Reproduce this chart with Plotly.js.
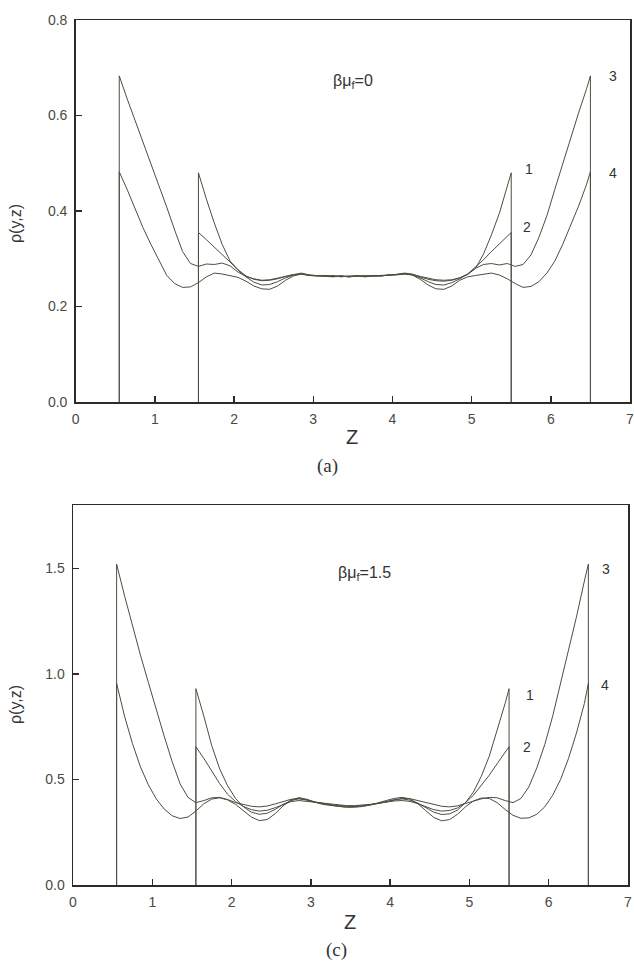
<!DOCTYPE html>
<html>
<head>
<meta charset="utf-8">
<script src="https://cdn.plot.ly/plotly-3.0.1.min.js"></script>
<style>html,body{margin:0;padding:0;background:#fff;}#chart{width:634px;height:969px;}</style>
</head>
<body>
<div id="chart"></div>
<script>
// z grids: walls at 0.55/6.5 (curves 3,4) and 1.55/5.5 (curves 1,2)
const z34 = [0.55,
  0.55,0.65,0.75,0.85,0.95,1.05,1.15,1.25,1.35,1.45,
  1.55,1.65,1.75,1.85,1.95,2.05,2.15,2.25,2.35,2.45,
  2.55,2.65,2.75,2.85,2.95,3.05,3.15,3.25,3.35,3.45,
  3.55,3.65,3.75,3.85,3.95,4.05,4.15,4.25,4.35,4.45,
  4.55,4.65,4.75,4.85,4.95,5.05,5.15,5.25,5.35,5.45,
  5.55,5.65,5.75,5.85,5.95,6.05,6.15,6.25,6.35,6.45,
  6.5,6.5];
const z12 = [1.55,
  1.55,1.65,1.75,1.85,1.95,2.05,2.15,2.25,2.35,2.45,
  2.55,2.65,2.75,2.85,2.95,3.05,3.15,3.25,3.35,3.45,
  3.55,3.65,3.75,3.85,3.95,4.05,4.15,4.25,4.35,4.45,
  4.55,4.65,4.75,4.85,4.95,5.05,5.15,5.25,5.35,5.45,
  5.5,5.5];

// Panel (a): beta mu_f = 0
const a1 = [0,
  0.48,0.425,0.375,0.33,0.295,0.277,0.264,0.257,0.254,0.255,
  0.258,0.263,0.267,0.27,0.266,0.265,0.264,0.262,0.264,0.263,
  0.265,0.262,0.264,0.265,0.266,0.267,0.27,0.268,0.262,0.257,
  0.254,0.253,0.255,0.26,0.267,0.28,0.31,0.35,0.395,0.45,
  0.48,0];
const a2 = [0,
  0.355,0.34,0.325,0.308,0.293,0.276,0.262,0.251,0.245,0.246,
  0.252,0.26,0.266,0.268,0.265,0.264,0.265,0.263,0.264,0.262,
  0.264,0.263,0.265,0.264,0.266,0.267,0.268,0.266,0.26,0.252,
  0.246,0.245,0.25,0.258,0.268,0.282,0.298,0.315,0.33,0.347,
  0.355,0];
const a3 = [0,
  0.683,0.635,0.59,0.545,0.50,0.455,0.408,0.36,0.315,0.29,
  0.284,0.289,0.288,0.291,0.285,0.272,0.263,0.258,0.255,0.256,
  0.259,0.263,0.267,0.268,0.265,0.264,0.265,0.263,0.264,0.262,
  0.264,0.263,0.265,0.264,0.266,0.266,0.268,0.267,0.263,0.259,
  0.256,0.255,0.256,0.26,0.268,0.28,0.288,0.29,0.287,0.29,
  0.284,0.288,0.308,0.345,0.39,0.445,0.5,0.555,0.605,0.655,
  0.683,0];
const a4 = [0,
  0.482,0.445,0.405,0.365,0.33,0.298,0.265,0.248,0.24,0.241,
  0.25,0.262,0.27,0.268,0.265,0.261,0.253,0.243,0.237,0.236,
  0.243,0.255,0.264,0.268,0.266,0.264,0.263,0.265,0.262,0.264,
  0.263,0.265,0.263,0.264,0.266,0.268,0.269,0.266,0.257,0.245,
  0.237,0.236,0.243,0.255,0.262,0.265,0.268,0.27,0.266,0.258,
  0.248,0.24,0.242,0.252,0.27,0.295,0.33,0.37,0.41,0.455,
  0.482,0];

// Panel (c): beta mu_f = 1.5
const b1 = [0,
  0.93,0.8,0.66,0.55,0.47,0.41,0.37,0.345,0.335,0.34,
  0.358,0.382,0.40,0.408,0.402,0.392,0.385,0.378,0.373,0.368,
  0.368,0.372,0.378,0.386,0.395,0.404,0.408,0.402,0.388,0.365,
  0.345,0.334,0.337,0.355,0.39,0.44,0.515,0.61,0.73,0.86,
  0.93,0];
const b2 = [0,
  0.655,0.6,0.54,0.48,0.43,0.395,0.372,0.357,0.35,0.354,
  0.366,0.382,0.395,0.40,0.396,0.39,0.385,0.381,0.378,0.376,
  0.376,0.378,0.382,0.387,0.393,0.398,0.40,0.396,0.385,0.37,
  0.357,0.35,0.353,0.365,0.39,0.425,0.47,0.52,0.575,0.63,
  0.655,0];
const b3 = [0,
  1.52,1.37,1.225,1.09,0.96,0.83,0.705,0.585,0.48,0.415,
  0.39,0.40,0.413,0.415,0.405,0.39,0.38,0.373,0.37,0.374,
  0.384,0.396,0.406,0.41,0.404,0.394,0.386,0.38,0.376,0.373,
  0.372,0.375,0.38,0.386,0.393,0.402,0.41,0.409,0.40,0.39,
  0.38,0.373,0.37,0.375,0.386,0.397,0.408,0.415,0.413,0.40,
  0.39,0.41,0.465,0.555,0.665,0.8,0.955,1.11,1.27,1.44,
  1.52,0];
const b4 = [0,
  0.955,0.8,0.67,0.56,0.475,0.408,0.36,0.328,0.315,0.322,
  0.35,0.385,0.407,0.413,0.403,0.382,0.352,0.322,0.305,0.31,
  0.338,0.375,0.402,0.414,0.406,0.392,0.382,0.376,0.372,0.37,
  0.371,0.374,0.379,0.388,0.40,0.41,0.415,0.408,0.385,0.352,
  0.32,0.304,0.31,0.335,0.37,0.398,0.412,0.41,0.39,0.358,
  0.33,0.316,0.318,0.335,0.37,0.425,0.5,0.6,0.72,0.86,
  0.955,0];

const xTicks = [0,1,2,3,4,5,6,7];
const yTicksA = [0,0.2,0.4,0.6,0.8];
const yTicksB = [0,0.5,1.0,1.5];
const curveLabels = ['1','2','3','4'];
const labelPosA = {x:[5.72,5.70,6.78,6.78], y:[0.489,0.367,0.683,0.479]};
const labelPosB = {x:[5.77,5.73,6.72,6.71], y:[0.90,0.655,1.495,0.947]};

const lineColor = '#4d4d40';
function tr(x, y, xa, ya) {
  return {x:x, y:y, xaxis:xa, yaxis:ya, mode:'lines', type:'scatter',
    line:{color:lineColor, width:1}, hoverinfo:'skip', showlegend:false};
}
const data = [
  tr(z12,a1,'x','y'), tr(z12,a2,'x','y'), tr(z34,a3,'x','y'), tr(z34,a4,'x','y'),
  tr(z12,b1,'x2','y2'), tr(z12,b2,'x2','y2'), tr(z34,b3,'x2','y2'), tr(z34,b4,'x2','y2')
];

const sans = 'Liberation Sans, Arial, sans-serif';
const tickFont = {family:sans, size:14, color:'#4a4a42'};
const axBase = {showline:true, mirror:true, linecolor:'#2b2b2b', linewidth:1.5,
  showgrid:false, zeroline:false, ticks:'inside', ticklen:6, tickwidth:1.5,
  tickcolor:'#2b2b2b', tickfont:tickFont, ticklabeloverflow:'allow'};

const L = 73, R = 4, T = 20, B = 84, W = 634, H = 969;
const pw = W - L - R, ph = H - T - B;
const px = v => (v - L) / pw;
const py = v => (H - B - v) / ph;

const annotations = [];
const numFont = {family:sans, size:14, color:'#333'};
curveLabels.forEach((t,i) => {
  annotations.push({text:t, x:labelPosA.x[i], y:labelPosA.y[i], xref:'x', yref:'y', showarrow:false, font:numFont});
  annotations.push({text:t, x:labelPosB.x[i], y:labelPosB.y[i], xref:'x2', yref:'y2', showarrow:false, font:numFont});
});
const betaFont = {family:sans, size:16, color:'#333'};
annotations.push({text:'βμ<sub>f</sub>=0', x:3.5, y:0.672, xref:'x', yref:'y', showarrow:false, font:betaFont});
annotations.push({text:'βμ<sub>f</sub>=1.5', x:3.68, y:1.475, xref:'x2', yref:'y2', showarrow:false, font:betaFont});
// axis titles and panel captions
const yTitleFont = {family:sans, size:16, color:'#333'};
annotations.push({text:'ρ(y,z)', x:px(15), y:py(224), xref:'paper', yref:'paper', showarrow:false,
  textangle:-90, xanchor:'center', yanchor:'middle', font:yTitleFont});
annotations.push({text:'ρ(y,z)', x:px(15), y:py(705), xref:'paper', yref:'paper', showarrow:false,
  textangle:-90, xanchor:'center', yanchor:'middle', font:yTitleFont});
const zFont = {family:sans, size:20, color:'#333'};
annotations.push({text:'Z', x:px(352), y:py(437), xref:'paper', yref:'paper', showarrow:false,
  xanchor:'center', yanchor:'middle', font:zFont});
annotations.push({text:'Z', x:px(350), y:py(922), xref:'paper', yref:'paper', showarrow:false,
  xanchor:'center', yanchor:'middle', font:zFont});
const capFont = {family:'Liberation Serif, Times New Roman, serif', size:19, color:'#333'};
annotations.push({text:'(a)', x:px(327), y:py(466), xref:'paper', yref:'paper', showarrow:false,
  xanchor:'center', yanchor:'middle', font:capFont});
annotations.push({text:'(c)', x:px(336), y:py(950), xref:'paper', yref:'paper', showarrow:false,
  xanchor:'center', yanchor:'middle', font:capFont});

const layout = {
  width:W, height:H,
  margin:{l:L, r:R, t:T, b:B, pad:0},
  paper_bgcolor:'#fff', plot_bgcolor:'#fff',
  showlegend:false,
  xaxis: Object.assign({}, axBase, {domain:[px(75.7),1], anchor:'y', range:[0,7],
    tickvals:xTicks, ticktext:xTicks.map(String), ticklabelstandoff:4}),
  yaxis: Object.assign({}, axBase, {domain:[py(402),1], anchor:'x', range:[0,0.8],
    tickvals:yTicksA, ticktext:yTicksA.map(v=>v.toFixed(1)), ticklabelstandoff:4}),
  xaxis2: Object.assign({}, axBase, {domain:[0,px(628)], anchor:'y2', range:[0,7],
    tickvals:xTicks, ticktext:xTicks.map(String), ticklabelstandoff:4}),
  yaxis2: Object.assign({}, axBase, {domain:[0,py(505)], anchor:'x2', range:[0,1.8],
    tickvals:yTicksB, ticktext:yTicksB.map(v=>v.toFixed(1)), ticklabelstandoff:4}),
  annotations:annotations
};

Plotly.newPlot('chart', data, layout, {staticPlot:true, displayModeBar:false});
</script>
</body>
</html>
